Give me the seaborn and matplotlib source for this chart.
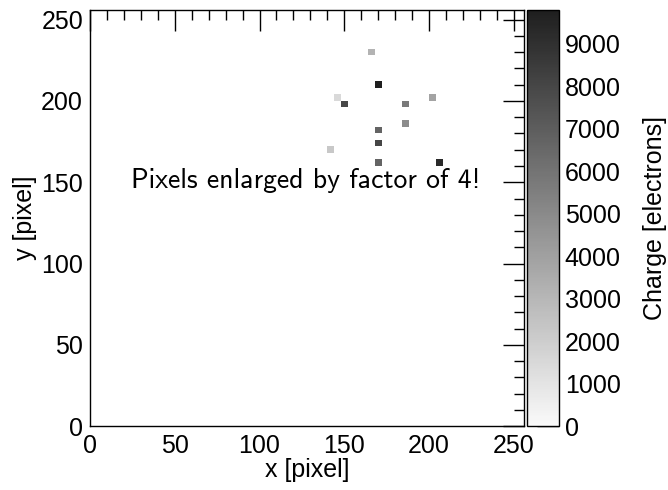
import numpy as np
import pandas as pd
import matplotlib
matplotlib.use("Agg")
import matplotlib.pyplot as plt
import seaborn as sns
from matplotlib.colors import LinearSegmentedColormap
from matplotlib.ticker import MultipleLocator

# hit pixels (bin centres of the 4x enlarged pixels) and their charge
col = [166, 170, 146, 150, 186, 202, 186, 170, 170, 142, 170, 206]
row = [230, 210, 202, 198, 198, 202, 186, 182, 174, 170, 162, 162]
charge = [3170, 9790, 1470, 7990, 5720, 3880, 4900, 6690, 8020, 2230, 6690, 9280]

hits = pd.DataFrame({"x": col, "y": row, "charge": charge})

sns.set_theme(style="white")
plt.rcParams["font.family"] = ["Liberation Sans", "DejaVu Sans"]
plt.rcParams.update({"text.color": "black", "axes.labelcolor": "black",
                     "xtick.color": "black", "ytick.color": "black"})

grey = LinearSegmentedColormap.from_list("grey", [(0.98, 0.98, 0.98), (0.12, 0.12, 0.12)])

fig = plt.figure(figsize=(6.68, 4.90), dpi=100)
ax = fig.add_axes([0.1347, 0.1306, 0.6497, 0.849])
cax = fig.add_axes([0.789, 0.1306, 0.048, 0.849])

sns.histplot(data=hits, x="x", y="y", weights="charge", bins=64, binrange=(0, 256),
             cmap=grey, vmin=0, vmax=9790, cbar=True, cbar_ax=cax, ax=ax)

ax.set_xlim(0, 256)
ax.set_ylim(0, 256)
ax.xaxis.set_major_locator(MultipleLocator(50))
ax.yaxis.set_major_locator(MultipleLocator(50))
ax.xaxis.set_minor_locator(MultipleLocator(10))
ax.yaxis.set_minor_locator(MultipleLocator(10))
ax.tick_params(which="both", direction="in", top=True, right=True, color="black", width=1)
ax.tick_params(which="major", length=15, labelsize=18, labelcolor="black", pad=5)
ax.tick_params(axis="x", which="major", pad=6)
ax.tick_params(which="minor", length=7)
for s in ax.spines.values():
    s.set_color("black")
    s.set_linewidth(1)
ax.set_xlabel("x [pixel]", fontsize=18, labelpad=0)
ax.set_ylabel("y [pixel]", fontsize=18, labelpad=3)

ax.text(127, 151, "Pixels enlarged by factor of 4!", family="cmss10", fontsize=20,
        ha="center", va="center")

cax.yaxis.set_major_locator(MultipleLocator(1000))
cax.tick_params(direction="in", length=16, width=1, color="black", labelsize=18,
                labelcolor="black", pad=4)
cax.set_ylabel("Charge [electrons]", fontsize=18, labelpad=16)
for s in cax.spines.values():
    s.set_color("black")
    s.set_linewidth(1)

fig.savefig("out.png", dpi=100)
